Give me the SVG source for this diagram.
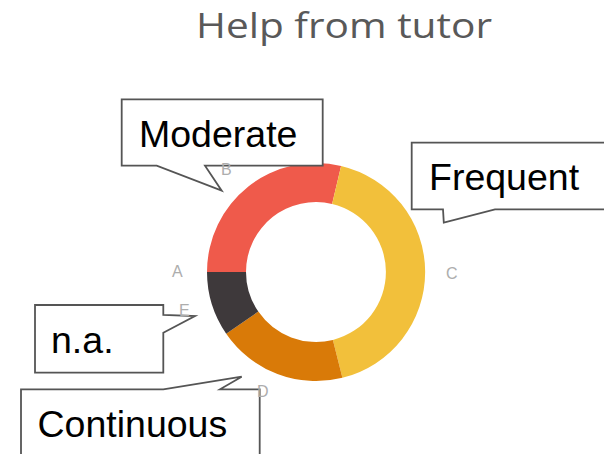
<svg xmlns="http://www.w3.org/2000/svg" width="604" height="454" viewBox="0 0 604 454">
  <style>
    .title { font-family: "Open Sans", "Liberation Sans", sans-serif; font-size: 34px; fill: #595959; }
    .callout { fill: #ffffff; stroke: #555555; stroke-width: 1.8; stroke-linejoin: miter; }
    .callout-text { font-family: "Liberation Sans", Arial, sans-serif; font-size: 37.5px; fill: #000000; }
    .axis-label { font-family: "Liberation Sans", Arial, sans-serif; font-size: 16px; fill: #adadad; }
  </style>
  <rect width="604" height="454" fill="#ffffff"/>

  <text class="title" x="196" y="38" textLength="296" lengthAdjust="spacingAndGlyphs">Help from tutor</text>

  <!-- Donut chart, centre (316,272), outer r 109, inner r 70 -->
  <g id="donut">
    <path id="seg-b" fill="#ef5a4b" d="M207,272 A109,109 0 0 1 341.1,165.9 L332.1,203.9 A70,70 0 0 0 246,272 Z"/>
    <path id="seg-c" fill="#f2c03b" d="M341.1,165.9 A109,109 0 0 1 342.4,377.8 L332.9,339.9 A70,70 0 0 0 332.1,203.9 Z"/>
    <path id="seg-d" fill="#d97a08" d="M342.4,377.8 A109,109 0 0 1 226.2,333.7 L258.3,311.6 A70,70 0 0 0 332.9,339.9 Z"/>
    <path id="seg-e" fill="#3e393b" d="M226.2,333.7 A109,109 0 0 1 207,272 L246,272 A70,70 0 0 0 258.3,311.6 Z"/>
  </g>

  <!-- Callout boxes with pointers -->
  <g id="callout-moderate">
    <path class="callout" d="M121.7,99.3 H322.7 V165.7 H205 L221.7,190.7 L156.7,165.7 H121.7 Z"/>
    <text class="callout-text" x="139" y="146.7">Moderate</text>
  </g>
  <g id="callout-frequent">
    <path class="callout" d="M411.7,142.7 H612 V209.3 H495 L443.8,222.7 L443,209.3 H411.7 Z"/>
    <text class="callout-text" x="429" y="190">Frequent</text>
  </g>
  <g id="callout-na">
    <path class="callout" d="M35,305 H163.3 V315 L195,316 L163.3,332.7 V372.7 H35 Z"/>
    <text class="callout-text" x="51" y="352.7">n.a.</text>
  </g>
  <g id="callout-continuous">
    <path class="callout" d="M21,389.3 H163.3 L241.7,376.7 L220,389.3 H259.7 V462 H21 Z"/>
    <text class="callout-text" x="37.5" y="436.7">Continuous</text>
  </g>

  <g id="connectors"></g>

  <!-- Category letters around the ring -->
  <g id="labels">
    <text class="axis-label" x="172" y="277">A</text>
    <text class="axis-label" x="221" y="175">B</text>
    <text class="axis-label" x="446" y="279">C</text>
    <text class="axis-label" x="257" y="397">D</text>
    <text class="axis-label" x="179" y="316">E</text>
  </g>
</svg>
